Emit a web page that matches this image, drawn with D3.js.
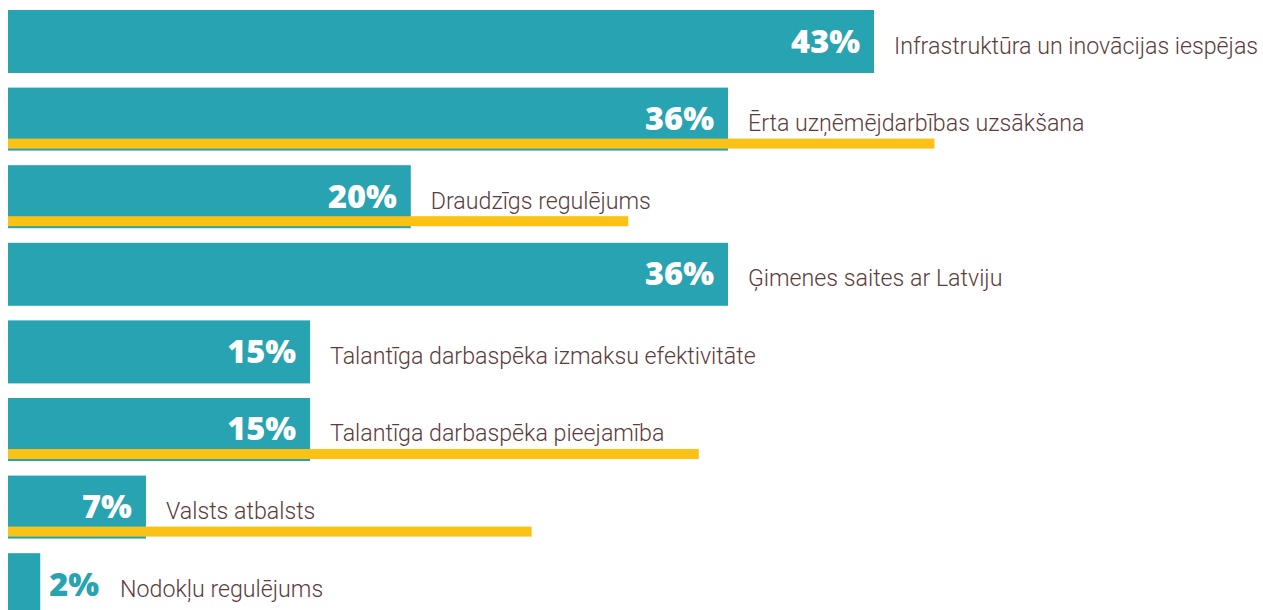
<!DOCTYPE html>
<html>
<head>
<meta charset="utf-8">
<script src="https://cdn.jsdelivr.net/npm/d3@7"></script>
<style>
  body { margin: 0; background: #ffffff; overflow: hidden; }
</style>
</head>
<body>
<script>
const WIDTH = 1263;
const HEIGHT = 610;

// Categories, top to bottom
const categories = [
    "Infrastruktūra un inovācijas iespējas",
    "Ērta uzņēmējdarbības uzsākšana",
    "Draudzīgs regulējums",
    "Ģimenes saites ar Latviju",
    "Talantīga darbaspēka izmaksu efektivitāte",
    "Talantīga darbaspēka pieejamība",
    "Valsts atbalsts",
    "Nodokļu regulējums"
];
// Main series (teal bars); labels are rounded
const mainValues = [43, 35.75, 20, 35.75, 15, 15, 6.85, 1.6];
// Comparison series (yellow strips), null where none shown
const compareValues = [null, 46, 30.8, null, null, 34.3, 26, null];

const TEAL = "#28a3b1";
const YELLOW = "#f9c214";
const TEXT = "#5c3b3b";

const svg = d3.select("body").append("svg")
    .attr("width", WIDTH).attr("height", HEIGHT);

const x = d3.scaleLinear().domain([0, 43]).range([8, 874]);

const y = d3.scaleBand()
    .domain(categories)
    .range([10, 616.2])
    .paddingInner(0.188)
    .paddingOuter(0);

const rows = categories.map((c, i) => ({cat: c, v: mainValues[i], cmp: compareValues[i]}));

// Teal bars
svg.selectAll("rect.main")
    .data(rows)
    .enter()
    .append("rect")
        .attr("class", "main")
        .attr("x", x(0))
        .attr("y", d => y(d.cat))
        .attr("width", d => x(d.v) - x(0))
        .attr("height", y.bandwidth())
        .style("fill", TEAL);

// Yellow strips along the bottom of the bar
svg.selectAll("rect.cmp")
    .data(rows.filter(d => d.cmp !== null))
    .enter()
    .append("rect")
        .attr("class", "cmp")
        .attr("x", x(0))
        .attr("y", d => y(d.cat) + y.bandwidth() - 12)
        .attr("width", d => x(d.cmp) - x(0))
        .attr("height", 10)
        .style("fill", YELLOW);

const midY = d => y(d.cat) + y.bandwidth() / 2 + 11;

// Percent labels: inside when there is room, else outside in teal
const pct = svg.selectAll("text.pct")
    .data(rows)
    .enter()
    .append("text")
        .attr("class", "pct")
        .attr("y", midY)
        .style("font-family", "'Open Sans', sans-serif")
        .style("font-weight", 800)
        .style("font-size", "32.5px")
        .text(d => Math.round(d.v) + "%");

pct.each(function(d) {
    const w = x(d.v) - x(0);
    d.inside = w > 80;
    const t = d3.select(this);
    if (d.inside) {
        t.attr("x", x(d.v) - 14).attr("text-anchor", "end").style("fill", "#ffffff");
    } else {
        t.attr("x", x(d.v) + 9).attr("text-anchor", "start").style("fill", TEAL);
        d.pctEnd = x(d.v) + 9 + this.getComputedTextLength();
    }
});

// Category labels
svg.selectAll("text.cat")
    .data(rows)
    .enter()
    .append("text")
        .attr("class", "cat")
        .attr("x", d => d.inside ? x(d.v) + 20 : d.pctEnd + 21)
        .attr("y", d => midY(d) + 1)
        .style("font-family", "Roboto, sans-serif")
        .style("font-weight", 300)
        .style("font-size", "23.2px")
        .style("fill", TEXT)
        .text(d => d.cat);
</script>
</body>
</html>
